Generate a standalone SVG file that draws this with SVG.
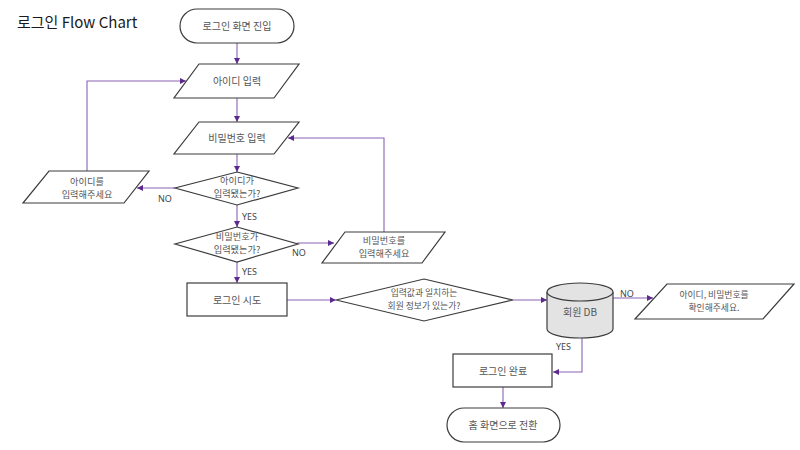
<svg xmlns="http://www.w3.org/2000/svg" width="800" height="450" viewBox="0 0 800 450">
<defs>
<marker id="arr" markerWidth="8" markerHeight="8" refX="6" refY="3" orient="auto" markerUnits="userSpaceOnUse">
<path d="M0,0 L6,3 L0,6 Z" fill="#5b2a8c"/>
</marker>
<style>
.s{fill:#fff;stroke:#3c3c3c;stroke-width:1.2}
.db{fill:#e3e3e3;stroke:#3c3c3c;stroke-width:1.2}
.t{font-family:"Noto Sans CJK KR","Noto Sans",sans-serif;font-size:10px;fill:#555;text-anchor:middle}
.m{font-size:9.2px}
.sm{font-size:8.8px}
.lb{font-family:"Noto Sans","Noto Sans CJK KR",sans-serif;font-size:9px;fill:#444}
.c{fill:none;stroke:#8a62b3;stroke-width:1.1;marker-end:url(#arr)}
</style>
</defs>
<rect width="800" height="450" fill="#fff"/>
<text x="17" y="28" font-family="'Noto Sans CJK KR','Noto Sans',sans-serif" font-size="15" font-weight="400" fill="#1a1a1a">로그인 Flow Chart</text>

<g id="connectors">
<path class="c" d="M237,43 V64"/>
<path class="c" d="M237,98 V122"/>
<path class="c" d="M237,154 V172"/>
<path class="c" d="M175,188 H137"/>
<path class="c" d="M87,171 V81 H186"/>
<path class="c" d="M237,205 V227"/>
<path class="c" d="M297,243 H334"/>
<path class="c" d="M384,232 V138 H288"/>
<path class="c" d="M237,262 V283"/>
<path class="c" d="M287,300 H336"/>
<path class="c" d="M513,300 H547"/>
<path class="c" d="M613,298 H653"/>
<path class="c" d="M582,338 V372 H553"/>
<path class="c" d="M503,387 V408"/>
<text class="lb" x="158" y="202">NO</text>
<text class="lb" x="242" y="220">YES</text>
<text class="lb" x="292" y="256">NO</text>
<text class="lb" x="242" y="275">YES</text>
<text class="lb" x="620" y="297">NO</text>
<text class="lb" x="556" y="350">YES</text>
</g>

<g id="start">
<rect class="s" x="180" y="9" width="114" height="34" rx="17"/>
<text class="t" x="237" y="30">로그인 화면 진입</text>
</g>
<g id="input-id">
<polygon class="s" points="199,64 299,64 274,98 174,98"/>
<text class="t" x="237" y="85">아이디 입력</text>
</g>
<g id="input-pw">
<polygon class="s" points="199,122 299,122 274,154 174,154"/>
<text class="t" x="237" y="142">비밀번호 입력</text>
</g>
<g id="check-id">
<polygon class="s" points="237,172 298,188 237,205 175,188"/>
<text class="t m" x="237" y="184">아이디가</text>
<text class="t m" x="237" y="197">입력됐는가?</text>
</g>
<g id="msg-id">
<polygon class="s" points="49,171 149,171 124,203 23,203"/>
<text class="t m" x="87" y="185">아이디를</text>
<text class="t m" x="87" y="198">입력해주세요</text>
</g>
<g id="check-pw">
<polygon class="s" points="237,227 298,244 237,262 175,244"/>
<text class="t m" x="237" y="240">비밀번호가</text>
<text class="t m" x="237" y="253">입력됐는가?</text>
</g>
<g id="msg-pw">
<polygon class="s" points="345,232 445,232 422,263 322,263"/>
<text class="t m" x="384" y="244">비밀번호를</text>
<text class="t m" x="384" y="257">입력해주세요</text>
</g>
<g id="login-try">
<rect class="s" x="187" y="283" width="100" height="33"/>
<text class="t" x="237" y="304">로그인 시도</text>
</g>
<g id="check-match">
<polygon class="s" points="424,279 513,300 424,321 336,300"/>
<text class="t sm" x="424" y="296">입력값과 일치하는</text>
<text class="t sm" x="424" y="309">회원 정보가 있는가?</text>
</g>
<g id="member-db">
<path class="db" d="M547,292 V329 A33,9 0 0 0 613,329 V292"/>
<ellipse class="db" cx="580" cy="292" rx="33" ry="9"/>
<text class="t" x="580" y="316">회원 DB</text>
</g>
<g id="msg-check">
<polygon class="s" points="667,284 794,284 763,319 635,319"/>
<text class="t sm" x="714" y="298">아이디, 비밀번호를</text>
<text class="t sm" x="714" y="311">확인해주세요.</text>
</g>
<g id="login-done">
<rect class="s" x="453" y="354" width="99" height="33"/>
<text class="t" x="503" y="375">로그인 완료</text>
</g>
<g id="end">
<rect class="s" x="447" y="408" width="113" height="34" rx="17"/>
<text class="t" x="503" y="429">홈 화면으로 전환</text>
</g>
</svg>
